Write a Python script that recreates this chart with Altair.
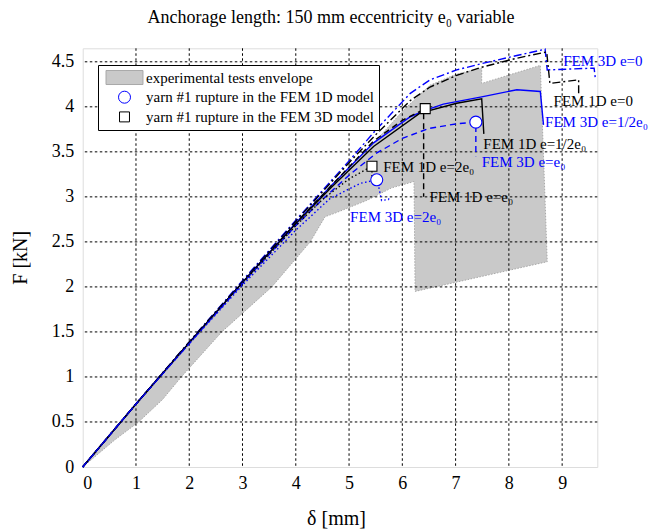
import altair as alt
import pandas as pd

FONT = "Liberation Serif"
BLUE = "#0000ff"
BLACK = "#000000"

# ---------------- data ----------------
# experimental envelope polygon (upper edge out, lower edge back)
env_x = [0, 0.5, 1, 2, 3, 4, 4.5, 5, 5.5, 6.0, 6.52, 7.0, 7.49, 7.49, 8.59, 8.72,
         6.24, 6.22, 5.8, 5.33, 4.74, 4.55, 4.27, 3.55, 2.61, 1.85, 1.5, 1.05, 0.6, 0.3, 0]
env_y = [0, 0.35, 0.69, 1.36, 2.02, 2.68, 3.0, 3.31, 3.62, 3.95, 4.24, 4.36, 4.43, 4.26, 4.46, 2.28,
         1.95, 3.17, 3.10, 2.96, 2.82, 2.78, 2.50, 2.0, 1.5, 1.0, 0.75, 0.5, 0.30, 0.15, 0]

fem3d_e0_x = [0, 1, 2, 3, 4, 5, 5.5, 6.15, 6.52, 7.02, 7.49, 8.15, 8.68, 8.72, 9.60, 9.62]
fem3d_e0_y = [0, 0.70, 1.39, 2.07, 2.74, 3.40, 3.74, 4.15, 4.30, 4.41, 4.48, 4.57, 4.64, 4.41, 4.43, 4.33]

fem1d_e0_x = [0, 1, 2, 3, 4, 5, 5.5, 6.15, 6.52, 7.02, 7.49, 8.15, 8.71, 8.77, 9.31, 9.31]
fem1d_e0_y = [0, 0.70, 1.39, 2.06, 2.73, 3.38, 3.69, 4.07, 4.22, 4.35, 4.44, 4.54, 4.61, 4.26, 4.30, 4.13]

fem3d_half_x = [0, 1, 2, 3, 4, 4.66, 5.46, 6.15, 6.43, 6.77, 7.49, 8.15, 8.59, 8.65]
fem3d_half_y = [0, 0.70, 1.38, 2.05, 2.71, 3.12, 3.60, 3.89, 3.96, 4.03, 4.11, 4.19, 4.17, 3.80]

fem1d_half_x = [0, 1, 2, 3, 4, 4.66, 5.46, 6.33, 7.02, 7.49, 7.53]
fem1d_half_y = [0, 0.70, 1.38, 2.05, 2.70, 3.10, 3.56, 3.93, 4.04, 4.09, 3.70]

fem1d_e1_x = [0, 1, 2, 3, 4, 4.66, 5.46, 6.0, 6.40, 6.40]
fem1d_e1_y = [0, 0.70, 1.38, 2.05, 2.71, 3.12, 3.62, 3.85, 3.97, 3.00]

fem3d_e1_x = [0, 1, 2, 3, 4, 4.5, 5, 5.5, 6, 6.5, 7, 7.38, 7.38]
fem3d_e1_y = [0, 0.70, 1.37, 2.04, 2.68, 2.97, 3.24, 3.48, 3.65, 3.76, 3.81, 3.83, 3.45]

fem1d_e2_x = [0, 1, 2, 3, 4, 4.5, 5, 5.43, 5.43]
fem1d_e2_y = [0, 0.70, 1.38, 2.04, 2.68, 2.97, 3.20, 3.34, 3.20]

fem3d_e2_x = [0, 1, 2, 3, 4, 4.64, 5.21, 5.52, 5.55, 5.61, 5.74, 5.76]
fem3d_e2_y = [0, 0.70, 1.37, 2.02, 2.63, 2.98, 3.15, 3.19, 3.13, 2.96, 2.97, 3.01]

# rupture markers
circle_x = [7.38, 5.52]
circle_y = [3.83, 3.19]
square_x = [6.43, 5.43]
square_y = [3.98, 3.34]

# curve labels
lab_text = ["FEM 3D e=0", "FEM 1D e=0", "FEM 3D e=1/2e\u2080", "FEM 1D e=1/2e\u2080",
            "FEM 3D e=e\u2080", "FEM 1D e=2e\u2080", "FEM 1D e=e\u2080", "FEM 3D e=2e\u2080"]
lab_x = [9.02, 8.84, 8.68, 7.52, 7.49, 5.64, 6.51, 5.02]
lab_y = [4.51, 4.06, 3.83, 3.59, 3.39, 3.33, 3.00, 2.78]
lab_c = [BLUE, BLACK, BLUE, BLACK, BLUE, BLACK, BLACK, BLUE]

leg_names = ["experimental tests envelope",
             "yarn #1 rupture in the FEM 1D model",
             "yarn #1 rupture in the FEM 3D model"]

x_ticks = [0, 1, 2, 3, 4, 5, 6, 7, 8, 9]
y_ticks = [0, 0.5, 1, 1.5, 2, 2.5, 3, 3.5, 4, 4.5]

XMAX, YMAX = 9.66, 4.65
W, H = 514.6, 418.7

# ---------------- build ----------------
xs = alt.Scale(domain=[0, XMAX], nice=False, zero=False)
ys = alt.Scale(domain=[0, YMAX], nice=False, zero=False)

x_axis = alt.Axis(values=x_ticks, format="d", grid=False, domain=False, ticks=False,
                  labelFont=FONT, labelFontSize=18, labelColor="black", labelPadding=7,
                  title="\u03b4 [mm]", titleFont=FONT, titleFontSize=20, titleFontWeight="normal",
                  titleColor="black", titleBaseline="alphabetic", titleY=57, titleX=W / 2 - 4)
y_axis = alt.Axis(values=y_ticks, format="~g", grid=False, domain=False, ticks=False,
                  labelFont=FONT, labelFontSize=18, labelColor="black", labelPadding=9,
                  title="F [kN]", titleFont=FONT, titleFontSize=20, titleFontWeight="normal",
                  titleColor="black", titleBaseline="alphabetic", titleX=-56,
                  titleY=182, titleAlign="right", titleAngle=270)

env_df = pd.DataFrame({"x": env_x, "y": env_y, "i": range(len(env_x))})
envelope = alt.Chart(env_df).mark_line(
    fill="#c9c9c9", stroke="#a8a8a8", strokeWidth=1, strokeDash=[1.5, 1.5]
).encode(
    x=alt.X("x:Q", scale=xs, axis=x_axis),
    y=alt.Y("y:Q", scale=ys, axis=y_axis),
    order="i:Q",
)

gx = alt.Chart(pd.DataFrame({"x": x_ticks[1:]})).mark_rule(
    color="black", strokeWidth=1, strokeDash=[2.5, 2.5], opacity=1
).encode(x=alt.X("x:Q", scale=xs))
gy = alt.Chart(pd.DataFrame({"y": y_ticks[1:]})).mark_rule(
    color="black", strokeWidth=1, strokeDash=[2.5, 2.5], opacity=1
).encode(y=alt.Y("y:Q", scale=ys))


def curve(xv, yv, color, dash):
    df = pd.DataFrame({"x": xv, "y": yv, "i": range(len(xv))})
    kw = dict(color=color, strokeWidth=1.4)
    if dash:
        kw["strokeDash"] = dash
    return alt.Chart(df).mark_line(**kw).encode(
        x=alt.X("x:Q", scale=xs), y=alt.Y("y:Q", scale=ys), order="i:Q")


DASH = [6, 4]
DOT = [1.5, 2.5]
DASHDOT = [8, 3, 2, 3]

lines = [
    curve(fem3d_e0_x, fem3d_e0_y, BLUE, DASHDOT),
    curve(fem1d_e0_x, fem1d_e0_y, BLACK, DASHDOT),
    curve(fem3d_half_x, fem3d_half_y, BLUE, None),
    curve(fem1d_half_x, fem1d_half_y, BLACK, None),
    curve(fem1d_e1_x, fem1d_e1_y, BLACK, DASH),
    curve(fem3d_e1_x, fem3d_e1_y, BLUE, DASH),
    curve(fem1d_e2_x, fem1d_e2_y, BLACK, DOT),
    curve(fem3d_e2_x, fem3d_e2_y, BLUE, DOT),
]

mk_df = pd.DataFrame({
    "x": circle_x + square_x,
    "y": circle_y + square_y,
    "leg": [leg_names[1]] * len(circle_x) + [leg_names[2]] * len(square_x),
})
PATCH = "M-3.08,-1.17L3.08,-1.17L3.08,1.17L-3.08,1.17Z"
SQUARE = "M-0.83,-0.83L0.83,-0.83L0.83,0.83L-0.83,0.83Z"
legend = alt.Legend(title=None, orient="none", legendX=15.3, legendY=16.7,
                    strokeColor="black", fillColor="white", padding=5,
                    symbolSize=144, symbolOffset=14, labelOffset=14, clipHeight=15,
                    rowPadding=3.7, labelFont=FONT, labelFontSize=15, labelColor="black",
                    symbolStrokeWidth=1, labelLimit=0)
markers = alt.Chart(mk_df).mark_point(size=144, opacity=1, strokeWidth=1.1, filled=False).encode(
    x=alt.X("x:Q", scale=xs), y=alt.Y("y:Q", scale=ys),
    shape=alt.Shape("leg:N", scale=alt.Scale(domain=leg_names, range=[PATCH, "circle", SQUARE]), legend=legend),
    fill=alt.Fill("leg:N", scale=alt.Scale(domain=leg_names, range=["#c9c9c9", "white", "white"]), legend=legend),
    stroke=alt.Stroke("leg:N", scale=alt.Scale(domain=leg_names, range=["#a8a8a8", BLUE, BLACK]), legend=legend),
)

lab_df = pd.DataFrame({"x": lab_x, "y": lab_y, "t": lab_text, "c": lab_c})
labels = alt.Chart(lab_df).mark_text(align="left", baseline="middle", font=FONT, fontSize=15).encode(
    x=alt.X("x:Q", scale=xs), y=alt.Y("y:Q", scale=ys), text="t:N",
    color=alt.Color("c:N", scale=None),
)

chart = alt.layer(envelope, gx, gy, *lines, markers, labels).properties(
    width=W, height=H,
    padding={"left": 82.7, "top": 48.3, "right": 61.7, "bottom": 65},
    autosize=alt.AutoSizeParams(type="none"),
    title=alt.TitleParams("Anchorage length: 150 mm eccentricity e\u2080 variable", font=FONT,
                          fontSize=18, fontWeight="normal", color="black", anchor="middle",
                          frame="group", baseline="alphabetic", offset=5, dx=-9),
).configure_view(stroke="black", strokeWidth=1.3).configure(background="white")

chart.save("out.html", embed_options={"renderer": "svg", "actions": False})
